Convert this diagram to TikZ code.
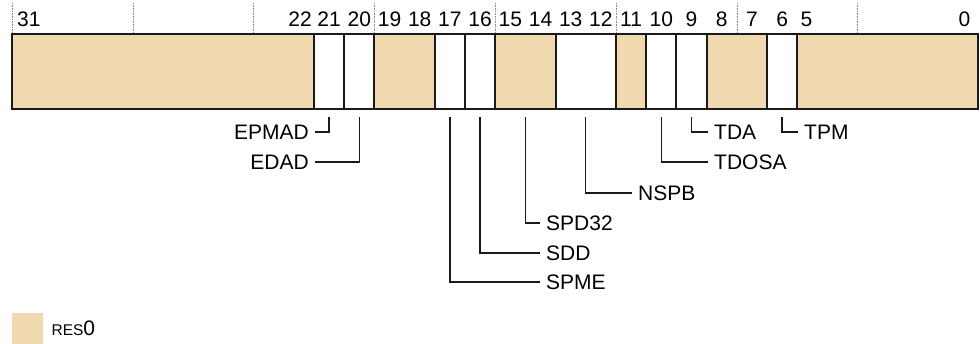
\documentclass[tikz,border=0pt]{standalone}
\usepackage{fontspec}
\setmainfont{Liberation Sans}
\usetikzlibrary{positioning}
\definecolor{res0}{HTML}{F0D8B0}
\definecolor{ink}{HTML}{1A1A1A}
\definecolor{guide}{HTML}{8C8C8C}
\newcommand{\regfont}{\fontsize{21pt}{25pt}\selectfont}
\newcommand{\smallregfont}{\fontsize{15.5pt}{18pt}\selectfont}
\tikzset{
  field/.style={draw=ink,line width=2pt,minimum height=75pt,
                inner sep=0pt,outer sep=0pt,anchor=north west},
  bitnum/.style={font=\regfont,inner sep=0pt},
  fieldname/.style={font=\regfont,inner sep=6pt},
  leader/.style={draw=ink,line width=1.3pt},
  guideline/.style={draw=guide,line width=0.6pt,densely dotted}
}

\begin{document}
\begin{tikzpicture}[x=1pt,y=-1pt]
  \useasboundingbox (0,0) rectangle (980,344);
  % dotted guides every 4 bits
  \foreach \k in {0,4,...,28}
    \draw[guideline] ({12+\k*30.2},3) -- ({12+\k*30.2},34);
  % bit numbers
  \node[bitnum,anchor=west] (b31) at (17,19) {31};
  \node[bitnum,anchor=east] (b22) at (312,19) {22};
  \foreach \b in {21,...,6}
    \node[bitnum] (b\b) at ({12+(31-\b+0.5)*30.2},19) {\b};
  \node[bitnum,anchor=west] (b5) at (800.5,19) {5};
  \node[bitnum,anchor=east] (b0) at (970.5,19) {0};
  % register fields  hi/lo/fill
  \foreach \hi/\lo/\fc in {31/22/res0,21/21/white,20/20/white,19/18/res0,
                           17/17/white,16/16/white,15/14/res0,13/12/white,
                           11/11/res0,10/10/white,9/9/white,8/7/res0,
                           6/6/white,5/0/res0}{
    \pgfmathsetmacro{\xl}{12+(31-\hi)*30.2}
    \pgfmathsetmacro{\fw}{(\hi-\lo+1)*30.2}
    \node[field,fill=\fc,minimum width=\fw pt] (f\hi) at (\xl,34) {};
  }
  % field names
  \node[fieldname,anchor=east] (nEPMAD) at (315,132) {EPMAD};
  \node[fieldname,anchor=east] (nEDAD) at (315,162) {EDAD};
  \node[fieldname,anchor=west] (nSPD32) at (540,223) {SPD32};
  \node[fieldname,anchor=west] (nSDD) at (540,253) {SDD};
  \node[fieldname,anchor=west] (nSPME) at (540,282) {SPME};
  \node[fieldname,anchor=west] (nNSPB) at (632,193) {NSPB};
  \node[fieldname,anchor=west] (nTDA) at (708,132) {TDA};
  \node[fieldname,anchor=west] (nTDOSA) at (708,162) {TDOSA};
  \node[fieldname,anchor=west] (nTPM) at (798,132) {TPM};
  % leaders
  \draw[leader] ([yshift=-8pt]f21.south) |- (nEPMAD.east);
  \draw[leader] ([yshift=-8pt]f20.south) |- (nEDAD.east);
  \draw[leader] ([yshift=-8pt]f17.south) |- (nSPME.west);
  \draw[leader] ([yshift=-8pt]f16.south) |- (nSDD.west);
  \draw[leader] ([yshift=-8pt]f15.south) |- (nSPD32.west);
  \draw[leader] ([yshift=-8pt]f13.south) |- (nNSPB.west);
  \draw[leader] ([yshift=-8pt]f10.south) |- (nTDOSA.west);
  \draw[leader] ([yshift=-8pt]f9.south) |- (nTDA.west);
  \draw[leader] ([yshift=-8pt]f6.south) |- (nTPM.west);
  % key
  \node[fill=res0,minimum size=31pt,inner sep=0pt,anchor=north west] (key) at (12,313) {};
  \node[inner sep=0pt,right=8pt of key] (keylabel) {\smallregfont RES\regfont 0};
\end{tikzpicture}
\end{document}
